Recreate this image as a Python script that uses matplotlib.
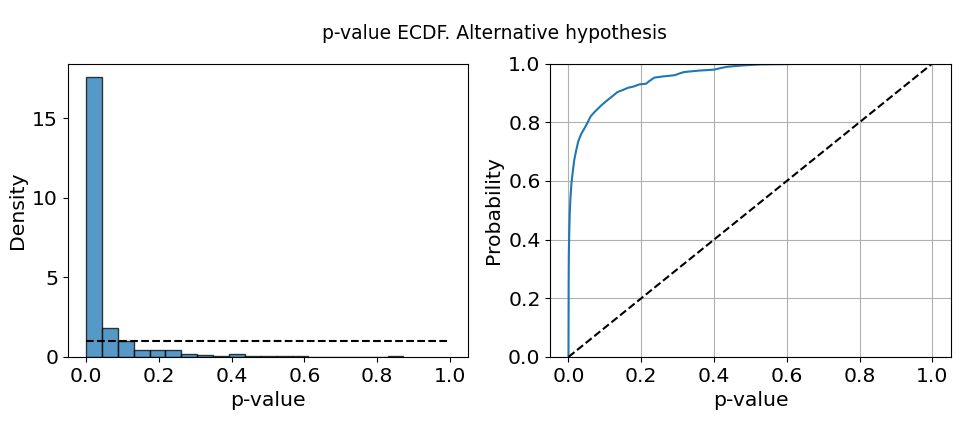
import matplotlib.pyplot as plt
import numpy as np

# histogram: 20 bins between min and max p-value, density values
bin_lo = 0.0
bin_hi = 0.872
densidad = [17.55, 1.83, 1.03, 0.44, 0.44, 0.44, 0.19, 0.13, 0.04, 0.21,
            0.08, 0.03, 0.03, 0.03, 0.02, 0.0, 0.0, 0.0, 0.0, 0.04]

# ECDF of the p-values
p_ecdf = [0.0, 0.0005, 0.001, 0.002, 0.0035, 0.0055, 0.008, 0.012, 0.016, 0.021,
          0.027, 0.035, 0.043, 0.053, 0.061, 0.071, 0.08, 0.09, 0.1, 0.108,
          0.12, 0.135, 0.15, 0.163, 0.18, 0.195, 0.205, 0.213, 0.222, 0.236,
          0.26, 0.291, 0.305, 0.318, 0.36, 0.40, 0.42, 0.437, 0.474, 0.5,
          0.529, 0.6, 0.657, 0.75, 0.84]
f_ecdf = [0.0, 0.25, 0.35, 0.42, 0.49, 0.543, 0.59, 0.634, 0.672, 0.703,
          0.735, 0.76, 0.777, 0.80, 0.82, 0.834, 0.845, 0.857, 0.868, 0.876,
          0.888, 0.903, 0.91, 0.917, 0.922, 0.929, 0.93, 0.931, 0.94, 0.952,
          0.956, 0.96, 0.966, 0.971, 0.976, 0.979, 0.985, 0.989, 0.993, 0.995,
          0.997, 0.998, 0.999, 0.9995, 1.0]

plt.rcParams['font.size'] = 14.7

fig, (ax1, ax2) = plt.subplots(1, 2, figsize=(9.7, 4.38), dpi=100)
fig.subplots_adjust(left=0.070, right=0.980, bottom=0.185, top=0.855, wspace=0.205)
fig.suptitle('p-value ECDF. Alternative hypothesis', fontsize=13.5, y=0.945, x=0.51)

# histograma
bordes = np.linspace(bin_lo, bin_hi, len(densidad) + 1)
ax1.bar(bordes[:-1], densidad, width=np.diff(bordes), align='edge',
        color='C0', alpha=0.75, edgecolor='black', linewidth=1)
ax1.plot([0, 1], [1, 1], 'k--')
ax1.set_xlabel('p-value')
ax1.set_ylabel('Density')
ax1.set_xlim(-0.05, 1.05)
ax1.set_xticks([0.0, 0.2, 0.4, 0.6, 0.8, 1.0])
ax1.set_yticks([0, 5, 10, 15])

# ECDF
ax2.plot(p_ecdf, f_ecdf, color='C0', linewidth=1.5)
ax2.plot([0, 1], [0, 1], 'k--')
ax2.set_xlabel('p-value')
ax2.set_ylabel('Probability')
ax2.set_ylim(0, 1)
ax2.set_xlim(-0.05, 1.05)
ax2.set_xticks([0.0, 0.2, 0.4, 0.6, 0.8, 1.0])
ax2.grid(True)

plt.savefig('out.png')
